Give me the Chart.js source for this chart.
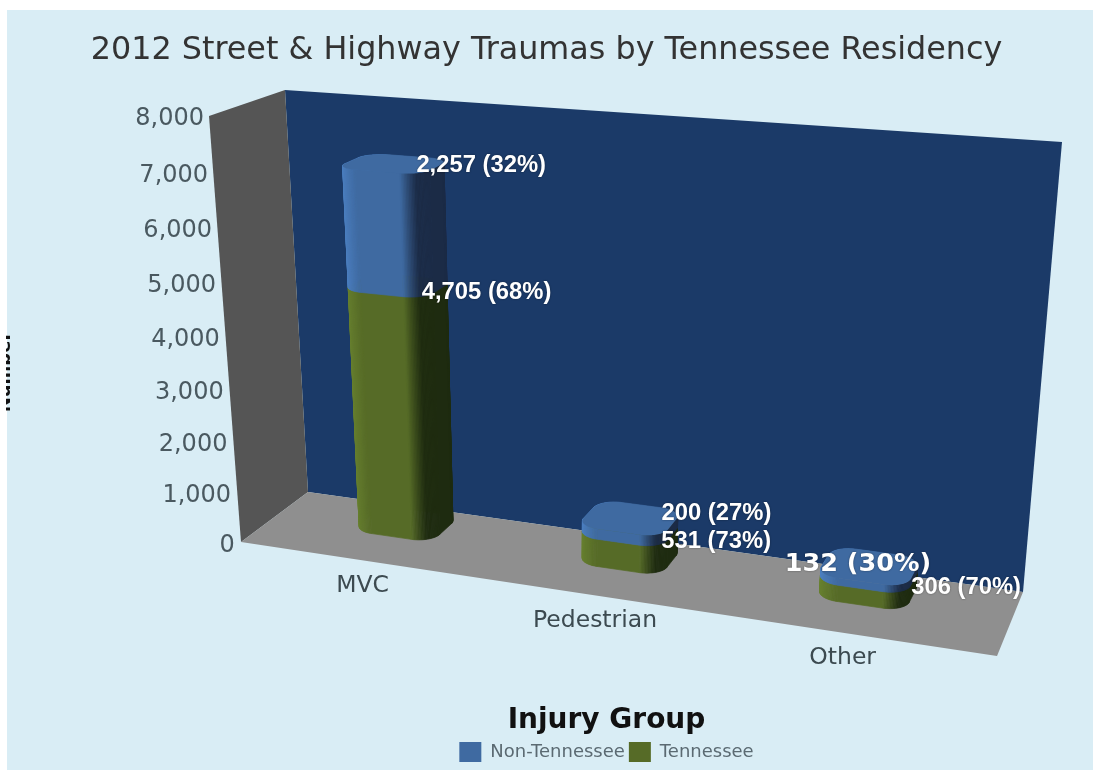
<!DOCTYPE html>
<html>
<head>
<meta charset="utf-8">
<title>2012 Street & Highway Traumas by Tennessee Residency</title>
<script src="https://cdn.jsdelivr.net/npm/chart.js@4"></script>
<style>
    html, body { margin: 0; padding: 0; background: #fff; overflow: hidden; }
    canvas { display: block; }
</style>
</head>
<body>
<canvas id="chart" width="1093" height="772"></canvas>
<script>
const categories = ['MVC', 'Pedestrian', 'Other'];
const tennessee = [4705, 531, 306];
const nonTennessee = [2257, 200, 132];
const yMax = 8000;
const yStep = 1000;

// box corners on screen, the 3d look is all built from these
const floorFrontL = [241, 542], floorFrontR = [997, 656], floorBackL = [308, 492], floorBackR = [1023, 592];
const topFrontL = [209, 116], topFrontR = [1047, 178], topBackL = [285, 90], topBackR = [1062, 142];
const barDepth = [0.46, 0.95];

function mix(a, b, t) { return a + (b - a) * t; }
function mixPt(a, b, t) { return [mix(a[0], b[0], t), mix(a[1], b[1], t)]; }

// u,v,d in 0..1: along x axis, up y axis, into the box
function project(u, v, d) {
    const uu = 0.0155 + 0.9536 * (u / (u + 1.1 * (1 - u)));
    const vv = v / (v + 1.07 * (1 - v));
    const low = mixPt(mixPt(floorFrontL, floorFrontR, uu), mixPt(floorBackL, floorBackR, uu), d);
    const high = mixPt(mixPt(topFrontL, topFrontR, uu), mixPt(topBackL, topBackR, uu), d);
    return mixPt(low, high, vv);
}

function poly(ctx, pts, fill) {
    ctx.beginPath();
    pts.forEach((p, i) => i ? ctx.lineTo(p[0], p[1]) : ctx.moveTo(p[0], p[1]));
    ctx.closePath();
    ctx.fillStyle = fill;
    ctx.fill();
}

// rounded footprint of a bar in (u,d), with the outward normal of each point
function footprint(u0, u1, d0, d1) {
    const ru = (u1 - u0) * 0.25, rd = (d1 - d0) * 0.3;
    const corners = [
        [u0 + ru, d0 + rd, Math.PI],
        [u1 - ru, d0 + rd, Math.PI * 1.5],
        [u1 - ru, d1 - rd, 0],
        [u0 + ru, d1 - rd, Math.PI / 2]
    ];
    const pts = [];
    corners.forEach(c => {
        for (let i = 0; i <= 24; i++) {
            const a = c[2] + (i / 24) * Math.PI / 2;
            pts.push({ u: c[0] + Math.cos(a) * ru, d: c[1] + Math.sin(a) * rd, nu: Math.cos(a), nd: Math.sin(a) });
        }
    });
    return pts;
}

function shade(rgb, f) {
    return 'rgb(' + rgb.map(c => Math.min(255, Math.round(c * f))).join(',') + ')';
}

function drawPrism(ctx, pts, v0, v1, rgb, sideRgb, cap) {
    const faces = pts.map((p, i) => ({ a: p, b: pts[(i + 1) % pts.length] }));
    faces.sort((x, y) => (y.a.d + y.b.d) - (x.a.d + x.b.d));
    faces.forEach(f => {
        const nu = (f.a.nu + f.b.nu) / 2;
        let col;
        if (nu > 0) {
            const t = Math.min(1, nu * 1.5);
            col = rgb.map((c, i) => mix(c, sideRgb[i], t));
        } else {
            col = rgb.map(c => Math.min(255, c * (1 - nu * 0.22)));
        }
        const style = shade(col, 1);
        const q = [project(f.a.u, v0, f.a.d), project(f.b.u, v0, f.b.d), project(f.b.u, v1, f.b.d), project(f.a.u, v1, f.a.d)];
        poly(ctx, q, style);
        ctx.strokeStyle = style;
        ctx.lineWidth = 0.7;
        ctx.stroke();
    });
    if (cap) poly(ctx, pts.map(p => project(p.u, v1, p.d)), shade(rgb, 1));
}

// value label offsets from the right shoulder of each segment
const labelStyle = {
    '0,0': { dx: -11, dy: -1 }, '1,0': { dx: -13, dy: -5 },
    '0,1': { dx: -6, dy: 1 }, '1,1': { dx: -6, dy: -17 },
    '0,2': { dx: 1, dy: 1 }, '1,2': { dx: -126, dy: -15 }
};

const box3d = {
    id: 'box3d',
    beforeDraw(chart) {
        const ctx = chart.ctx;
        ctx.save();
        ctx.fillStyle = '#d9edf5';
        ctx.fillRect(7, 10, chart.width - 7, 760);
        poly(ctx, [floorBackL, floorBackR, topBackR, topBackL], '#1b3a68');
        poly(ctx, [floorFrontL, floorBackL, topBackL, topFrontL], '#555555');
        poly(ctx, [floorFrontL, floorFrontR, floorBackR, floorBackL], '#8f8f8f');

        // tick labels sit on the front edge of the left wall
        const y = chart.scales.y;
        ctx.font = '24px "DejaVu Sans"';
        ctx.fillStyle = '#4a5960';
        ctx.textAlign = 'right';
        ctx.textBaseline = 'middle';
        y.ticks.forEach(t => {
            const p = project(0, t.value / yMax, 0);
            ctx.fillText(t.value.toLocaleString('en-US'), p[0] - 18, p[1] + 2);
        });

        // category labels below the front edge of the floor
        const x = chart.scales.x;
        ctx.textAlign = 'center';
        ctx.font = '23.5px "DejaVu Sans"';
        ctx.fillStyle = '#3c4a50';
        categories.forEach((c, i) => {
            const u = (x.getPixelForValue(i) - x.left) / x.width;
            const p = project(u, 0, 0);
            ctx.fillText(c, p[0] - 1, p[1] + 25);
        });

        // axis title, cut by the edge of the screenshot
        ctx.save();
        ctx.beginPath();
        ctx.rect(6, 0, 4, chart.height);
        ctx.clip();
        ctx.translate(9.5, 372);
        ctx.rotate(-Math.PI / 2);
        ctx.textAlign = 'center';
        ctx.textBaseline = 'alphabetic';
        ctx.font = 'bold 18px "DejaVu Sans"';
        ctx.fillStyle = '#111';
        ctx.fillText('Number', 0, 0);
        ctx.restore();
        ctx.restore();
    },
    beforeDatasetDraw() { return false; },
    afterDatasetsDraw(chart) {
        const ctx = chart.ctx, area = chart.chartArea;
        const sides = [[30, 43, 16], [27, 43, 70]];
        const metas = chart.data.datasets.map((d, i) => chart.getDatasetMeta(i));
        categories.forEach((c, j) => {
            metas.forEach((meta, i) => {
                const el = meta.data[j];
                const u0 = (el.x - el.width / 2 - area.left) / area.width;
                const u1 = (el.x + el.width / 2 - area.left) / area.width;
                const v0 = (area.bottom - el.base) / area.height;
                const v1 = (area.bottom - el.y) / area.height;
                const fp = footprint(u0, u1, barDepth[0], barDepth[1]);
                const rgb = chart.data.datasets[i].rgb;
                drawPrism(ctx, fp, v0, v1, rgb, sides[i], i === metas.length - 1);
            });
        });
        ctx.save();
        ctx.fillStyle = '#fff';
        ctx.textAlign = 'left';
        ctx.textBaseline = 'middle';
        ctx.shadowColor = 'rgba(0,0,0,0.45)';
        ctx.shadowBlur = 2;
        categories.forEach((c, j) => {
            const total = tennessee[j] + nonTennessee[j];
            metas.forEach((meta, i) => {
                const el = meta.data[j];
                const val = chart.data.datasets[i].data[j];
                const u = (el.x + el.width / 2 - area.left) / area.width;
                const v = (area.bottom - el.y) / area.height;
                const p = project(u, v, 0.6);
                const s = labelStyle[i + ',' + j];
                ctx.font = (i === 1 && j === 2) ? 'bold 25.5px "DejaVu Sans"' : 'bold 23.8px "Liberation Sans"';
                ctx.fillText(val.toLocaleString('en-US') + ' (' + Math.round(val / total * 100) + '%)', p[0] + s.dx, p[1] + s.dy);
            });
        });
        ctx.restore();
    }
};

new Chart(document.getElementById('chart').getContext('2d'), {
    type: 'bar',
    data: {
        labels: categories,
        datasets: [
            { label: 'Tennessee', data: tennessee, backgroundColor: '#566b27', rgb: [86, 107, 39], barPercentage: 0.36, categoryPercentage: 1 },
            { label: 'Non-Tennessee', data: nonTennessee, backgroundColor: '#3f6aa1', rgb: [63, 106, 161], barPercentage: 0.36, categoryPercentage: 1 }
        ]
    },
    options: {
        responsive: false,
        animation: false,
        layout: { padding: { top: 32, bottom: 0, left: 0, right: 0 } },
        scales: {
            x: {
                stacked: true,
                grid: { display: false },
                border: { display: false },
                ticks: { display: false },
                title: {
                    display: true,
                    text: 'Injury Group',
                    color: '#111',
                    font: { family: '"DejaVu Sans"', size: 28, weight: 'bold' },
                    padding: { top: 0, bottom: 0 }
                }
            },
            y: {
                stacked: true,
                min: 0,
                max: yMax,
                grid: { display: false },
                border: { display: false },
                ticks: { display: false, stepSize: yStep },
                afterFit(scale) { scale.width = 120; }
            }
        },
        plugins: {
            title: {
                display: true,
                text: '2012 Street & Highway Traumas by Tennessee Residency',
                color: '#333',
                font: { family: '"DejaVu Sans"', size: 31.8, weight: 'normal' },
                padding: { top: 0, bottom: 20 }
            },
            legend: {
                position: 'bottom',
                fullSize: false,
                reverse: true,
                labels: {
                    boxWidth: 22,
                    boxHeight: 20,
                    padding: 4,
                    color: '#5b6a72',
                    font: { family: '"DejaVu Sans"', size: 18 }
                }
            },
            tooltip: { enabled: false }
        }
    },
    plugins: [box3d]
});
</script>
</body>
</html>
